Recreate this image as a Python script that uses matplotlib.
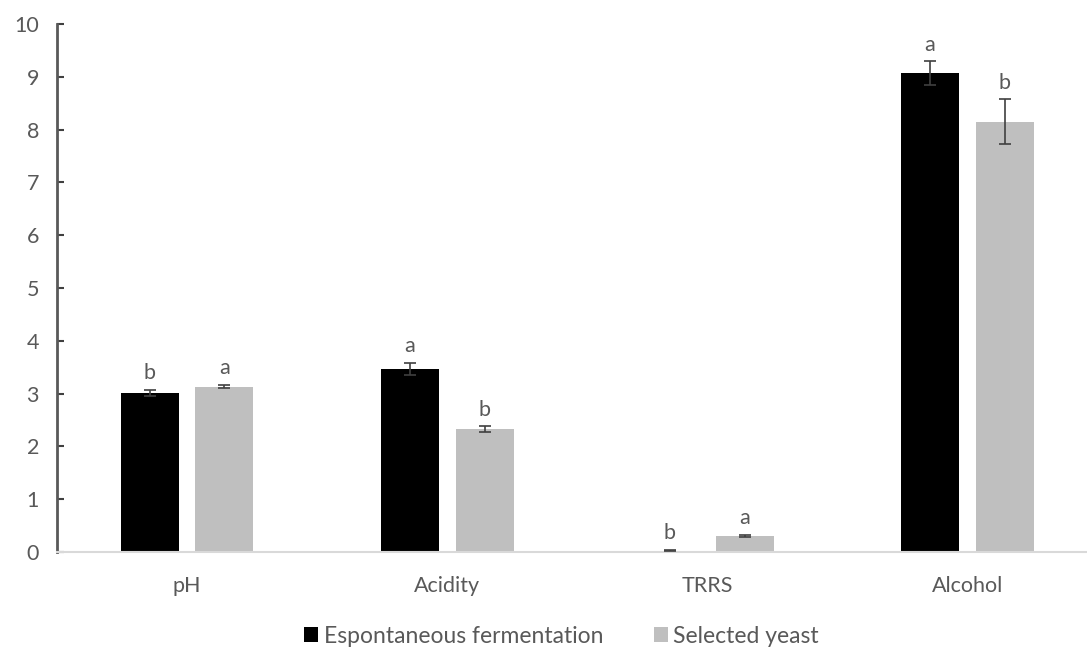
import matplotlib.pyplot as plt
import numpy as np

categories = ["pH", "Acidity", "TRRS", "Alcohol"]
spontaneous = [3.01, 3.47, 0.03, 9.07]
spontaneous_err = [0.06, 0.11, 0.01, 0.22]
selected = [3.13, 2.33, 0.31, 8.15]
selected_err = [0.03, 0.05, 0.02, 0.42]
spontaneous_letters = ["b", "a", "b", "a"]
selected_letters = ["a", "b", "a", "b"]

plt.rcParams["font.family"] = ["Lato", "DejaVu Sans"]
text_color = "#595959"

fig = plt.figure(figsize=(10.87, 6.48), dpi=100)
ax = fig.add_axes([0.0524, 0.148, 0.9476, 0.815])

x = np.arange(len(categories))
width = 0.223
offset = 0.144

ax.bar(x - offset, spontaneous, width, color="black", label="Espontaneous fermentation", zorder=2)
ax.bar(x + offset, selected, width, color="#bfbfbf", label="Selected yeast", zorder=2)
ax.errorbar(x - offset, spontaneous, yerr=spontaneous_err, fmt="none", ecolor="#404040",
            elinewidth=1.2, capsize=4, capthick=1.2, zorder=3)
ax.errorbar(x + offset, selected, yerr=selected_err, fmt="none", ecolor="#404040",
            elinewidth=1.2, capsize=4, capthick=1.2, zorder=3)

for xi, v, e, lab in zip(x - offset, spontaneous, spontaneous_err, spontaneous_letters):
    ax.text(xi, v + e + 0.13, lab, ha="center", va="bottom", fontsize=15.5, color=text_color)
for xi, v, e, lab in zip(x + offset, selected, selected_err, selected_letters):
    ax.text(xi, v + e + 0.13, lab, ha="center", va="bottom", fontsize=15.5, color=text_color)

ax.set_xlim(-0.5, 3.46)
ax.set_ylim(0, 10)
ax.set_yticks(range(0, 11))
ax.set_xticks(x)
ax.set_xticklabels(categories)

for side in ["top", "right"]:
    ax.spines[side].set_visible(False)
ax.spines["left"].set_color("#595959")
ax.spines["left"].set_linewidth(2)
ax.spines["bottom"].set_color("#d9d9d9")
ax.spines["bottom"].set_linewidth(1.5)

ax.tick_params(axis="y", direction="in", length=5, width=1.5, color="#404040",
               labelsize=15.5, labelcolor=text_color, pad=13)
ax.tick_params(axis="x", length=0, labelsize=15.5, labelcolor=text_color, pad=17)

ax.legend(loc="upper center", bbox_to_anchor=(0.49, -0.1), ncol=2, frameon=False,
          fontsize=16.5, labelcolor=text_color, handlelength=0.6, handleheight=0.6,
          handletextpad=0.25, columnspacing=2.2)

fig.savefig("out.png", dpi=100)
